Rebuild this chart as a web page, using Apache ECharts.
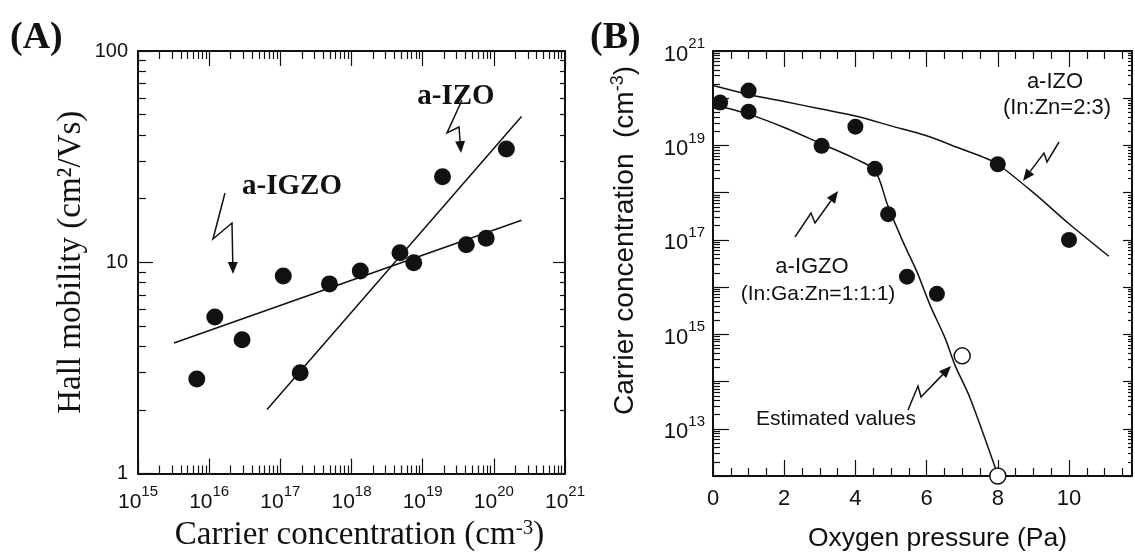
<!DOCTYPE html>
<html>
<head>
<meta charset="utf-8">
<script src="https://cdn.jsdelivr.net/npm/echarts@6/dist/echarts.min.js"></script>
<style>
html, body { margin: 0; padding: 0; background: #fff; }
#chart { width: 1135px; height: 557px; }
</style>
</head>
<body>
<div id="chart"></div>
<script>
// ---- panel A: Hall mobility vs carrier concentration ----
var igzoConc = [6.7e15, 1.2e16, 2.9e16, 1.1e17, 4.9e17, 1.33e18, 7.5e18, 4.1e19, 7.8e19];
var igzoMob  = [2.8, 5.5, 4.3, 8.6, 7.9, 9.1, 9.95, 12.1, 13.0];
var izoConc  = [1.9e17, 4.8e18, 1.9e19, 1.5e20];
var izoMob   = [3.0, 11.1, 25.4, 34.4];
var igzoFitConc = [3.2e15, 2.45e20];
var igzoFitMob  = [4.15, 15.8];
var izoFitConc  = [6.5e16, 2.45e20];
var izoFitMob   = [2.01, 49];
var concTicks = [1e15, 1e16, 1e17, 1e18, 1e19, 1e20, 1e21];
var mobTicks  = [1, 10, 100];

// ---- panel B: carrier concentration vs oxygen pressure ----
var o2Igzo = [0.2, 1.0, 3.05, 4.55, 4.92, 5.45, 6.29];
var nIgzo  = [8.1e19, 5.2e19, 9.8e18, 3.2e18, 3.5e17, 1.66e16, 7.2e15];
var o2Izo  = [1.0, 4.0, 8.0, 10.0];
var nIzo   = [1.45e20, 2.5e19, 4e18, 1e17];
var o2Est  = [7.0, 8.0];
var nEst   = [3.5e14, 1.0e12];
var o2IgzoFit = [0, 1, 2, 3, 4, 4.55, 4.9, 5.3, 5.73, 6.1, 6.52, 6.8, 7.22, 8];
var nIgzoFit  = [7.4e19, 4.6e19, 2.4e19, 1.12e19, 5.2e18, 2.95e18, 5.6e17, 1.05e17, 2.1e16, 4.1e15, 8.3e14, 2.2e14, 4.5e13, 1.05e12];
var o2IzoFit  = [0, 1, 2, 3, 4, 5, 6, 7, 7.6, 8, 9, 10, 11.12];
var nIzoFit   = [1.86e20, 1.2e20, 8.5e19, 6.0e19, 4.2e19, 2.6e19, 1.6e19, 8.3e18, 5.6e18, 4.0e18, 1.0e18, 2.2e17, 4.5e16];
var o2Ticks   = [0, 2, 4, 6, 8, 10];
var nTicks    = [1e12, 1e13, 1e14, 1e15, 1e16, 1e17, 1e18, 1e19, 1e20, 1e21];
var nLabels   = [1e13, 1e15, 1e17, 1e19, 1e21];

var BLACK = '#111';
var SANS = '"Liberation Sans", Arial, sans-serif';
var SERIF = '"Liberation Serif", "Times New Roman", serif';
// tiny headroom so the top decade survives the log round trip
var CONC_MAX = 1.0001e21, N_MAX = 1.0001e21, O2_MAX = 11.77;

function zip(xs, ys) { return xs.map(function (x, i) { return [x, ys[i]]; }); }
function logMinors(lo, hi) {
    var out = [];
    for (var e = lo; e < hi; e++)
        for (var m = 2; m < 10; m++) out.push(m * Math.pow(10, e));
    return out;
}
function halfSteps(lo, hi) {
    var out = [];
    for (var v = lo + 0.5; v < hi; v += 0.5) if (v % 2 !== 0) out.push(v);
    return out;
}
function supRich(size) {
    return {
        b: { fontSize: size, fontFamily: SANS, color: BLACK, verticalAlign: 'bottom', lineHeight: size + 7 },
        s: { fontSize: Math.round(size * 0.7), fontFamily: SANS, color: BLACK, verticalAlign: 'top', lineHeight: size + 7 }
    };
}
function powLabel(v) { return '{b|10}{s|' + Math.round(Math.log10(v)) + '}'; }

// one axis of the frame: ticks only, or with line / labels
function frameAxis(grid, pos, type, min, max, ticks, len, withLine, label) {
    return {
        gridIndex: grid, position: pos, type: type, min: min, max: max,
        splitLine: { show: false },
        axisLine: { show: withLine, onZero: false, lineStyle: { color: BLACK, width: 2 } },
        axisTick: { show: true, inside: true, length: len, customValues: ticks, lineStyle: { color: BLACK, width: 1.2 } },
        axisLabel: label || { show: false }
    };
}

var xAxes = [
    // A bottom
    frameAxis(0, 'bottom', 'log', 1e15, CONC_MAX, concTicks, 15, true,
        { show: true, customValues: concTicks, margin: 11, formatter: powLabel, rich: supRich(21) }),
    frameAxis(0, 'bottom', 'log', 1e15, CONC_MAX, logMinors(15, 21), 8, false),
    // A top
    frameAxis(0, 'top', 'log', 1e15, CONC_MAX, concTicks, 15, true),
    frameAxis(0, 'top', 'log', 1e15, CONC_MAX, logMinors(15, 21), 8, false),
    // B bottom
    frameAxis(1, 'bottom', 'value', 0, O2_MAX, o2Ticks, 16, true,
        { show: true, customValues: o2Ticks, margin: 12, fontSize: 22, fontFamily: SANS, color: BLACK }),
    frameAxis(1, 'bottom', 'value', 0, O2_MAX, halfSteps(0, O2_MAX), 8, false),
    // B top
    frameAxis(1, 'top', 'value', 0, O2_MAX, o2Ticks, 16, true),
    frameAxis(1, 'top', 'value', 0, O2_MAX, halfSteps(0, O2_MAX), 8, false)
];
xAxes[0].name = 'Carrier concentration (cm{s|-3})';
xAxes[0].nameLocation = 'middle';
xAxes[0].nameGap = 44;
xAxes[0].nameTextStyle = {
    fontFamily: SERIF, fontSize: 33, color: BLACK, padding: [0, 0, 0, 16],
    rich: { s: { fontFamily: SERIF, fontSize: 21, color: BLACK, verticalAlign: 'top', lineHeight: 36 } }
};
xAxes[4].name = 'Oxygen pressure (Pa)';
xAxes[4].nameLocation = 'middle';
xAxes[4].nameGap = 49;
xAxes[4].nameTextStyle = { fontFamily: SANS, fontSize: 26.5, color: BLACK, padding: [0, 0, 0, 30] };

var yAxes = [
    // A left
    frameAxis(0, 'left', 'log', 1, 100, mobTicks, 15, true,
        { show: true, customValues: mobTicks, margin: 10, fontSize: 20, fontFamily: SANS, color: BLACK }),
    frameAxis(0, 'left', 'log', 1, 100, logMinors(0, 2), 8, false),
    // A right
    frameAxis(0, 'right', 'log', 1, 100, mobTicks, 12, true),
    frameAxis(0, 'right', 'log', 1, 100, logMinors(0, 2), 5, false),
    // B left
    frameAxis(1, 'left', 'log', 1e12, N_MAX, nTicks, 16, true,
        { show: true, customValues: nLabels, margin: 8, formatter: powLabel, rich: supRich(22) }),
    frameAxis(1, 'left', 'log', 1e12, N_MAX, logMinors(12, 21), 7, false),
    // B right
    frameAxis(1, 'right', 'log', 1e12, N_MAX, nTicks, 9, true),
    frameAxis(1, 'right', 'log', 1e12, N_MAX, logMinors(12, 21), 4, false)
];
yAxes[0].name = 'Hall mobility (cm\u00b2/Vs)';
yAxes[0].nameLocation = 'middle';
yAxes[0].nameGap = 50;
yAxes[0].nameTextStyle = { fontFamily: SERIF, fontSize: 33, color: BLACK };
yAxes[4].name = 'Carrier concentration  (cm{s|-3})';
yAxes[4].nameLocation = 'middle';
yAxes[4].nameGap = 72;
yAxes[4].nameTextStyle = {
    fontFamily: SANS, fontSize: 28, color: BLACK, padding: [0, 0, 0, 46],
    rich: { s: { fontFamily: SANS, fontSize: 18, color: BLACK, verticalAlign: 'top', lineHeight: 32 } }
};

function dots(data, xi, yi, size) {
    return { type: 'scatter', xAxisIndex: xi, yAxisIndex: yi, data: data, symbolSize: size,
             itemStyle: { color: BLACK, opacity: 1 }, z: 4, clip: false };
}
function curve(data, xi, yi, smooth) {
    return { type: 'line', xAxisIndex: xi, yAxisIndex: yi, data: data, showSymbol: false, smooth: smooth,
             lineStyle: { color: BLACK, width: 1.5 }, z: 3, clip: false };
}

function arrow(pts) {
    var n = pts.length, tip = pts[n - 1], prev = pts[n - 2];
    var dx = tip[0] - prev[0], dy = tip[1] - prev[1], L = Math.sqrt(dx * dx + dy * dy);
    var ux = dx / L, uy = dy / L, hl = 12, hw = 5;
    var base = [tip[0] - ux * hl, tip[1] - uy * hl];
    return [
        { type: 'polyline', shape: { points: pts.slice(0, n - 1).concat([base]) },
          style: { stroke: BLACK, lineWidth: 1.5, fill: null } },
        { type: 'polygon', shape: { points: [tip, [base[0] - uy * hw, base[1] + ux * hw], [base[0] + uy * hw, base[1] - ux * hw]] },
          style: { fill: BLACK } }
    ];
}
function label(text, x, y, font) {
    return { type: 'text', style: { text: text, x: x, y: y, font: font, fill: BLACK,
             textAlign: 'center', textVerticalAlign: 'middle' } };
}

var graphics = [
    { type: 'text', style: { text: '(A)', x: 10, y: 38, font: 'bold 38px ' + SERIF, fill: BLACK, textVerticalAlign: 'middle' } },
    { type: 'text', style: { text: '(B)', x: 590, y: 38, font: 'bold 38px ' + SERIF, fill: BLACK, textVerticalAlign: 'middle' } },
    label('a-IZO', 456, 97, 'bold 29px ' + SERIF),
    label('a-IGZO', 292, 187, 'bold 29px ' + SERIF),
    label('a-IZO', 1055, 82, '22px ' + SANS),
    label('(In:Zn=2:3)', 1057, 108, '22px ' + SANS),
    label('a-IGZO', 812, 267, '22px ' + SANS),
    label('(In:Ga:Zn=1:1:1)', 818, 294, '21px ' + SANS),
    label('Estimated values', 836, 419, '21px ' + SANS)
].concat(
    arrow([[225, 193], [213, 239], [232, 223], [233, 274]]),
    arrow([[462, 100], [447, 133], [459, 127], [461, 153]]),
    arrow([[1059, 142], [1047, 162], [1044, 153], [1023, 181]]),
    arrow([[795, 237], [811, 213], [815, 223], [838, 191]]),
    arrow([[908, 410], [918, 386], [921, 397], [951, 366]])
);

var chart = echarts.init(document.getElementById('chart'));
chart.setOption({
    backgroundColor: '#fff',
    animation: false,
    grid: [
        { left: 138, top: 51, width: 427, height: 427 },
        { left: 713, top: 51, width: 419, height: 426 }
    ],
    xAxis: xAxes,
    yAxis: yAxes,
    series: [
        curve(zip(igzoFitConc, igzoFitMob), 0, 0, false),
        curve(zip(izoFitConc, izoFitMob), 0, 0, false),
        dots(zip(igzoConc, igzoMob), 0, 0, 17),
        dots(zip(izoConc, izoMob), 0, 0, 17),
        curve(zip(o2IgzoFit, nIgzoFit), 4, 4, 0.3),
        curve(zip(o2IzoFit, nIzoFit), 4, 4, 0.3),
        dots(zip(o2Igzo, nIgzo), 4, 4, 16),
        dots(zip(o2Izo, nIzo), 4, 4, 16),
        { type: 'scatter', xAxisIndex: 4, yAxisIndex: 4, data: zip(o2Est, nEst), symbolSize: 16, clip: false, z: 5,
          itemStyle: { color: '#fff', borderColor: BLACK, borderWidth: 1.5, opacity: 1 } }
    ],
    graphic: graphics
});
</script>
</body>
</html>
